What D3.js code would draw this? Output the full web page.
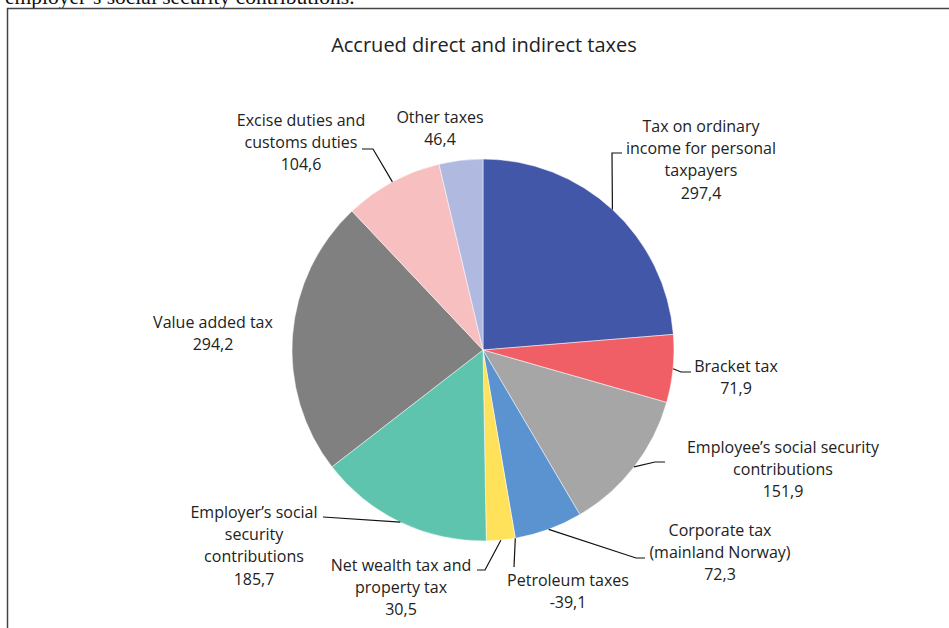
<!DOCTYPE html>
<html>
<head>
<meta charset="utf-8">
<script src="https://cdn.jsdelivr.net/npm/d3@7"></script>
<style>
  html, body { margin: 0; padding: 0; background: #fff; }
  svg { display: block; }
</style>
</head>
<body>
<svg id="chart" width="949" height="628"></svg>
<script>
// ---- data ----
const categories = [
  "Tax on ordinary income for personal taxpayers",
  "Bracket tax",
  "Employee’s social security contributions",
  "Corporate tax (mainland Norway)",
  "Petroleum taxes",
  "Net wealth tax and property tax",
  "Employer’s social security contributions",
  "Value added tax",
  "Excise duties and customs duties",
  "Other taxes"
];
const values = [297.4, 71.9, 151.9, 72.3, -39.1, 30.5, 185.7, 294.2, 104.6, 46.4];
const valueLabels = ["297,4", "71,9", "151,9", "72,3", "-39,1", "30,5", "185,7", "294,2", "104,6", "46,4"];
const labelLines = [
  ["Tax on ordinary", "income for personal", "taxpayers"],
  ["Bracket tax"],
  ["Employee’s social security", "contributions"],
  ["Corporate tax", "(mainland Norway)"],
  ["Petroleum taxes"],
  ["Net wealth tax and", "property tax"],
  ["Employer’s social", "security", "contributions"],
  ["Value added tax"],
  ["Excise duties and", "customs duties"],
  ["Other taxes"]
];
const title = "Accrued direct and indirect taxes";
const headerText = "employer’s social security contributions.";

// ---- styles / layout ----
const colors = ["#4257A8", "#F15F66", "#A6A6A6", "#5B93D0", "#333333", "#FFE15A", "#5EC4AE", "#808080", "#F8BFC1", "#B0B9DF"];
const cx = 483, cy = 350, radius = 191;
const lineH = 22.3;
const labelFont = 16;
// label anchor (center x, first line center y) and leader waypoints (null = no leader)
const labelLayout = [
  {x: 701, y: 126, leader: [[612, 153], [622, 153]]},
  {x: 736, y: 366, leader: [[681, 372], [691, 372]]},
  {x: 783, y: 447, leader: [[655, 462], [665, 462]]},
  {x: 720, y: 530, leader: [[636, 558], [645, 558]]},
  {x: 568, y: 580, leader: [[514, 567]]},
  {x: 401, y: 565, leader: [[485, 570], [477, 570]]},
  {x: 254, y: 512, leader: [[323, 517]]},
  {x: 213, y: 322, leader: null},
  {x: 301, y: 120, leader: [[373, 149], [362, 149]]},
  {x: 440, y: 117, leader: null}
];

const svg = d3.select("#chart");

// clipped header text from surrounding document (cut off at top edge as in the source)
svg.append("text")
  .attr("x", 5).attr("y", 3.5)
  .attr("font-family", "Liberation Serif, Times New Roman, serif")
  .attr("font-size", 21.5)
  .attr("fill", "#111")
  .text(headerText);

// frame
svg.append("path")
  .attr("d", "M7.5,628 L7.5,8.5 L949,8.5")
  .attr("fill", "none")
  .attr("stroke", "#444")
  .attr("stroke-width", 1.5);

// title
svg.append("text")
  .attr("x", 484).attr("y", 52)
  .attr("text-anchor", "middle")
  .attr("font-family", "Open Sans, Noto Sans, sans-serif")
  .attr("font-size", 20)
  .attr("fill", "#222")
  .text(title);

const data = categories.map((c, i) => ({name: c, value: values[i], i}));
const pie = d3.pie().sort(null).value(d => Math.max(0, d.value));
const arcs = pie(data);
const arc = d3.arc().innerRadius(0).outerRadius(radius);

const g = svg.append("g").attr("transform", `translate(${cx},${cy})`);
g.selectAll("path.slice")
  .data(arcs.filter(a => a.endAngle > a.startAngle))
  .join("path")
  .attr("class", "slice")
  .attr("d", arc)
  .attr("fill", d => colors[d.data.i])
  .attr("stroke", "#fff")
  .attr("stroke-width", 0.5);

// leaders
arcs.forEach(a => {
  const L = labelLayout[a.data.i];
  if (!L.leader) return;
  const mid = (a.startAngle + a.endAngle) / 2;
  const start = [cx + radius * Math.sin(mid), cy - radius * Math.cos(mid)];
  const pts = [start, ...L.leader];
  svg.append("path")
    .attr("d", d3.line()(pts))
    .attr("fill", "none")
    .attr("stroke", "#111")
    .attr("stroke-width", 1.2);
});

// labels
arcs.forEach(a => {
  const i = a.data.i;
  const L = labelLayout[i];
  const lines = [...labelLines[i], valueLabels[i]];
  const t = svg.append("text")
    .attr("text-anchor", "middle")
    .attr("font-family", "Open Sans, Noto Sans, sans-serif")
    .attr("font-size", labelFont)
    .attr("fill", "#222");
  lines.forEach((ln, k) => {
    t.append("tspan")
      .attr("x", L.x)
      .attr("y", L.y + k * lineH + labelFont * 0.36)
      .text(ln);
  });
});
</script>
</body>
</html>
